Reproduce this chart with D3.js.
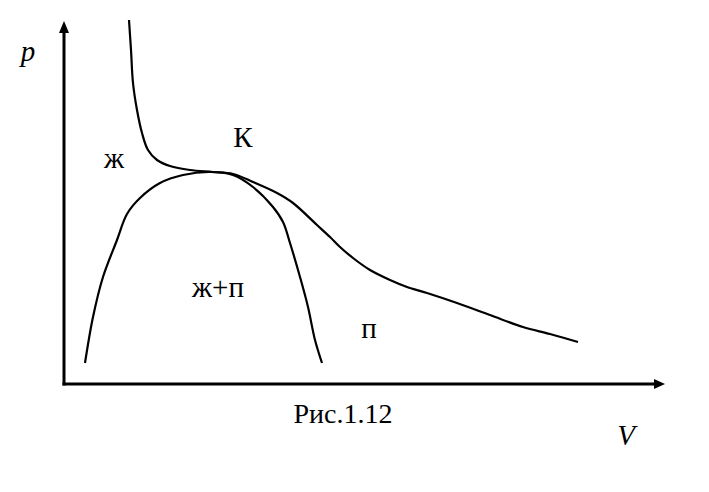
<!DOCTYPE html>
<html><head><meta charset="utf-8">
<script src="https://cdn.jsdelivr.net/npm/d3@7"></script>
<style>body{margin:0;background:#fff}svg{display:block}</style>
</head><body><svg id="c" width="709" height="492"></svg>
<script>
// Isotherm through the critical point (V, p in arbitrary units)
const isothermV = [65,67,69,73,78,84,93,106,126,149,169,189,213,229,253,266,276,289,306,326,343,363,393,426,459,486,514];
const isothermP = [364,334,301,274,251,234,224,218,214,212,210,202,191,181,159,147,137,126,114,104,97,91,81,69,57,50,42];
// Saturation dome (binodal)
const domeV = [21,29,39,53,63,76,96,119,146,169,189,209,219,226,236,244,251,258];
const domeP = [21,67,107,144,170,186,201,209,212,209,197,177,162,141,107,77,44,21];
// Labels
const regionLabels = [
  {text:"ж", V:50, p:216},
  {text:"К", V:179, p:237},
  {text:"ж+п", V:154, p:87},
  {text:"п", V:305, p:46}
];
const axisLabels = {p:"p", V:"V", caption:"Рис.1.12"};

const svg = d3.select("#c");
const x = d3.scaleLinear().domain([0,600]).range([64,664]);
const y = d3.scaleLinear().domain([0,365]).range([384,19]);

// axes
svg.append("line").attr("x1",x(0)).attr("y1",y(0)+1.5).attr("x2",x(0)).attr("y2",y(352)).attr("stroke","#000").attr("stroke-width",3);
svg.append("line").attr("x1",x(0)-1.5).attr("y1",y(0)).attr("x2",x(592)).attr("y2",y(0)).attr("stroke","#000").attr("stroke-width",3);
svg.append("path").attr("d",`M${x(0)},${y(363)} L${x(0)-5},${y(351)} L${x(0)+5},${y(351)} Z`).attr("fill","#000");
svg.append("path").attr("d",`M${x(601)},${y(0)} L${x(590)},${y(0)-5} L${x(590)},${y(0)+5} Z`).attr("fill","#000");

const line = d3.line().x(d=>x(d[0])).y(d=>y(d[1])).curve(d3.curveCatmullRom.alpha(0.5));
svg.append("path").attr("d",line(isothermV.map((v,i)=>[v,isothermP[i]]))).attr("fill","none").attr("stroke","#000").attr("stroke-width",2.2);
svg.append("path").attr("d",line(domeV.map((v,i)=>[v,domeP[i]]))).attr("fill","none").attr("stroke","#000").attr("stroke-width",2.2);

function txt(tx,ty,s,size,italic){
  const t = svg.append("text").attr("x",tx).attr("y",ty)
    .attr("font-family","Times New Roman").attr("font-size",size).text(s);
  if (italic) t.attr("font-style","italic");
  const w = t.node().getComputedTextLength();
  t.attr("x", tx - w/2);
}
regionLabels.forEach(l=>txt(x(l.V),y(l.p),l.text,29,false));
txt(28,61,axisLabels.p,29,true);
txt(626,445,axisLabels.V,29,true);
txt(343,423,axisLabels.caption,28,false);
</script></body></html>
